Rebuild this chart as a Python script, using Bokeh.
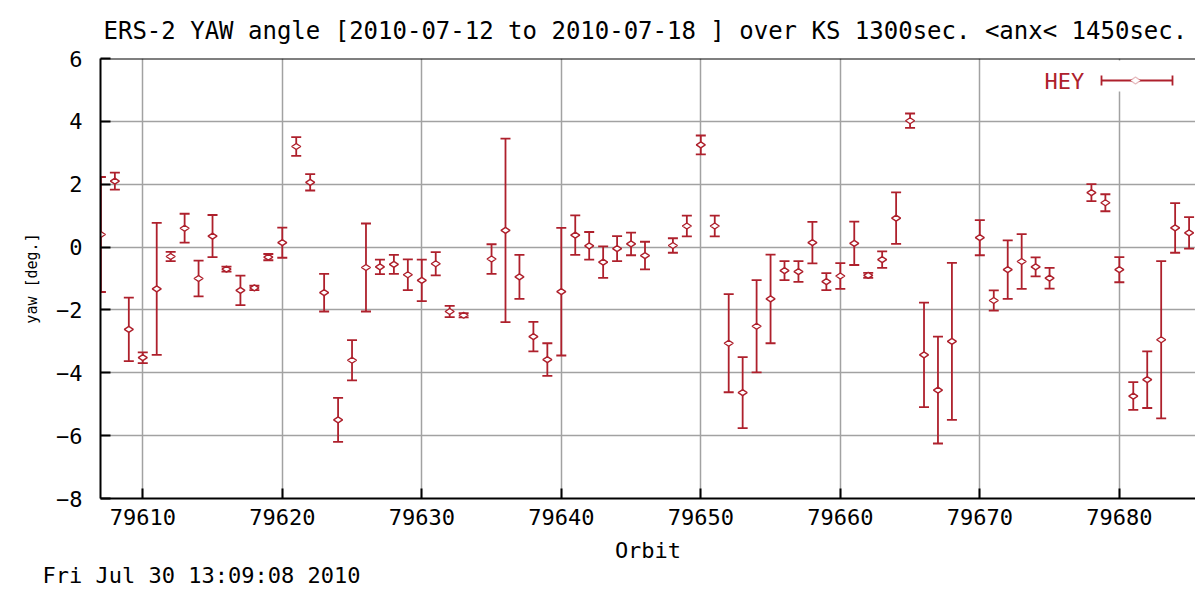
from bokeh.plotting import figure
from bokeh.models import (Whisker, TeeHead, ColumnDataSource, FixedTicker, Range1d, Span,
                          Label, Arrow, PolyAnnotation, BoxAnnotation, Title)
from bokeh.embed import file_html
from bokeh.resources import INLINE

# ---- data ----
orbit = [79607, 79608, 79609, 79610, 79611, 79612, 79613, 79614, 79615, 79616,
         79617, 79618, 79619, 79620, 79621, 79622, 79623, 79624, 79625, 79626,
         79627, 79628, 79629, 79630, 79631, 79632, 79633,
         79635, 79636, 79637, 79638, 79639, 79640, 79641, 79642, 79643, 79644, 79645, 79646,
         79648, 79649, 79650, 79651, 79652, 79653, 79654, 79655, 79656, 79657, 79658,
         79659, 79660, 79661, 79662, 79663, 79664, 79665, 79666, 79667, 79668,
         79670, 79671, 79672, 79673, 79674, 79675,
         79678, 79679, 79680, 79681, 79682, 79683, 79684, 79685]
yaw = [0.40, 2.10, -2.62, -3.52, -1.33, -0.30, 0.60, -1.00, 0.35, -0.70,
       -1.38, -1.30, -0.32, 0.14, 3.20, 2.06, -1.45, -5.50, -3.60, -0.65,
       -0.63, -0.55, -0.88, -1.06, -0.53, -2.05, -2.17,
       -0.38, 0.53, -0.95, -2.85, -3.58, -1.42, 0.38, 0.04, -0.48, -0.05, 0.10, -0.27,
       0.05, 0.67, 3.25, 0.67, -3.06, -4.63, -2.52, -1.65, -0.75, -0.78, 0.14,
       -1.10, -0.92, 0.12, -0.90, -0.40, 0.92, 4.02, -3.43, -4.55, -3.00,
       0.30, -1.70, -0.72, -0.46, -0.63, -0.99,
       1.73, 1.41, -0.72, -4.74, -4.22, -2.95, 0.61, 0.45]
yaw_err = [1.83, 0.27, 1.01, 0.17, 2.10, 0.15, 0.46, 0.57, 0.67, 0.08,
           0.47, 0.07, 0.10, 0.48, 0.30, 0.26, 0.60, 0.70, 0.64, 1.40,
           0.23, 0.30, 0.49, 0.66, 0.37, 0.18, 0.07,
           0.47, 2.92, 0.70, 0.47, 0.52, 2.03, 0.63, 0.44, 0.50, 0.40, 0.36, 0.44,
           0.23, 0.33, 0.30, 0.33, 1.56, 1.13, 1.47, 1.41, 0.30, 0.33, 0.66,
           0.27, 0.41, 0.69, 0.08, 0.26, 0.82, 0.23, 1.66, 1.70, 2.50,
           0.56, 0.32, 0.93, 0.87, 0.30, 0.33,
           0.27, 0.27, 0.40, 0.44, 0.90, 2.50, 0.79, 0.50]
x_ticks = [79610, 79620, 79630, 79640, 79650, 79660, 79670, 79680]
y_ticks = [-8, -6, -4, -2, 0, 2, 4, 6]
title_text = "ERS-2 YAW angle [2010-07-12 to 2010-07-18 ] over KS 1300sec. <anx< 1450sec."
series_name = "HEY"
date_text = "Fri Jul 30 13:09:08 2010"

RED = "#ae202c"
FONT = "DejaVu Sans Mono"

src = ColumnDataSource(dict(
    x=orbit, y=yaw,
    upper=[v + e for v, e in zip(yaw, yaw_err)],
    lower=[v - e for v, e in zip(yaw, yaw_err)],
))

p = figure(width=1195, height=590, output_backend="svg", toolbar_location=None,
           x_range=Range1d(79606.97, 79685.46), y_range=Range1d(-8, 6),
           min_border_left=100, min_border_right=0, min_border_top=58, min_border_bottom=92)
p.outline_line_color = None
p.background_fill_color = "white"
p.border_fill_color = "white"

p.title.text = title_text
p.title.text_font = FONT
p.title.text_font_size = "24px"
p.title.text_font_style = "normal"
p.title.text_color = "black"
p.title.align = "left"
p.title.offset = 3
p.title.standoff = 27

for ax, ticks in ((p.xaxis, x_ticks), (p.yaxis, y_ticks)):
    ax.ticker = FixedTicker(ticks=ticks)
    ax.axis_line_color = "black"
    ax.axis_line_width = 2
    ax.major_tick_line_color = "black"
    ax.major_tick_line_width = 2
    ax.major_tick_in = 10
    ax.major_tick_out = 0
    ax.minor_tick_line_color = None
    ax.major_label_text_font = FONT
    ax.major_label_text_font_size = "22px"
    ax.major_label_text_color = "black"
    ax.axis_label_text_font = FONT
    ax.axis_label_text_font_style = "normal"
    ax.axis_label_text_color = "black"

p.xaxis.axis_label = "Orbit"
p.xaxis.axis_label_text_font_size = "22px"
p.xaxis.major_label_standoff = 10
p.xaxis.axis_label_standoff = 10
p.yaxis.axis_label = "yaw [deg.]"
p.yaxis.axis_label_text_font_size = "15px"
p.yaxis.major_label_standoff = 18
p.yaxis.axis_label_standoff = 12

p.xgrid.ticker = FixedTicker(ticks=x_ticks)
p.ygrid.ticker = FixedTicker(ticks=y_ticks)
for g in (p.xgrid, p.ygrid):
    g.grid_line_color = "#a2a2a2"
    g.grid_line_width = 1.5

p.add_layout(Span(location=6, dimension="width", line_color="black", line_width=2))

p.add_layout(Whisker(source=src, base="x", upper="upper", lower="lower",
                     line_color=RED, line_width=1.8,
                     upper_head=TeeHead(size=10, line_color=RED, line_width=1.8),
                     lower_head=TeeHead(size=10, line_color=RED, line_width=1.8)))
p.scatter("x", "y", source=src, marker="diamond", size=9, angle=1.5708,
          fill_color="white", line_color=RED, line_width=1.4)

# key at top right (label, then error-bar sample, as in the reference)
p.add_layout(BoxAnnotation(left=1040, right=1182, top=60, bottom=91,
                           left_units="canvas", right_units="canvas",
                           top_units="canvas", bottom_units="canvas",
                           fill_color="white", fill_alpha=1.0, line_color=None))
p.add_layout(Label(x=1044, y=80.5, x_units="canvas", y_units="canvas", text=series_name,
                   text_font=FONT, text_font_size="22px", text_color=RED,
                   text_baseline="middle", text_align="left"))
p.add_layout(Arrow(x_start=1101, y_start=80, x_end=1172, y_end=80,
                   start_units="canvas", end_units="canvas",
                   line_color=RED, line_width=1.8,
                   start=TeeHead(size=10, line_color=RED, line_width=1.8),
                   end=TeeHead(size=10, line_color=RED, line_width=1.8)))
p.add_layout(PolyAnnotation(xs=[1130, 1135, 1140, 1135], ys=[80, 76.5, 80, 83.5],
                            xs_units="canvas", ys_units="canvas",
                            fill_color="white", fill_alpha=1.0, line_color=RED, line_width=1.4))

# timestamp below the axis title
p.add_layout(Title(text=date_text, align="left", offset=-58, standoff=-10,
                   text_font=FONT, text_font_size="22px", text_font_style="normal",
                   text_color="black"), "below")

open("out.html", "w").write(file_html(p, INLINE))
